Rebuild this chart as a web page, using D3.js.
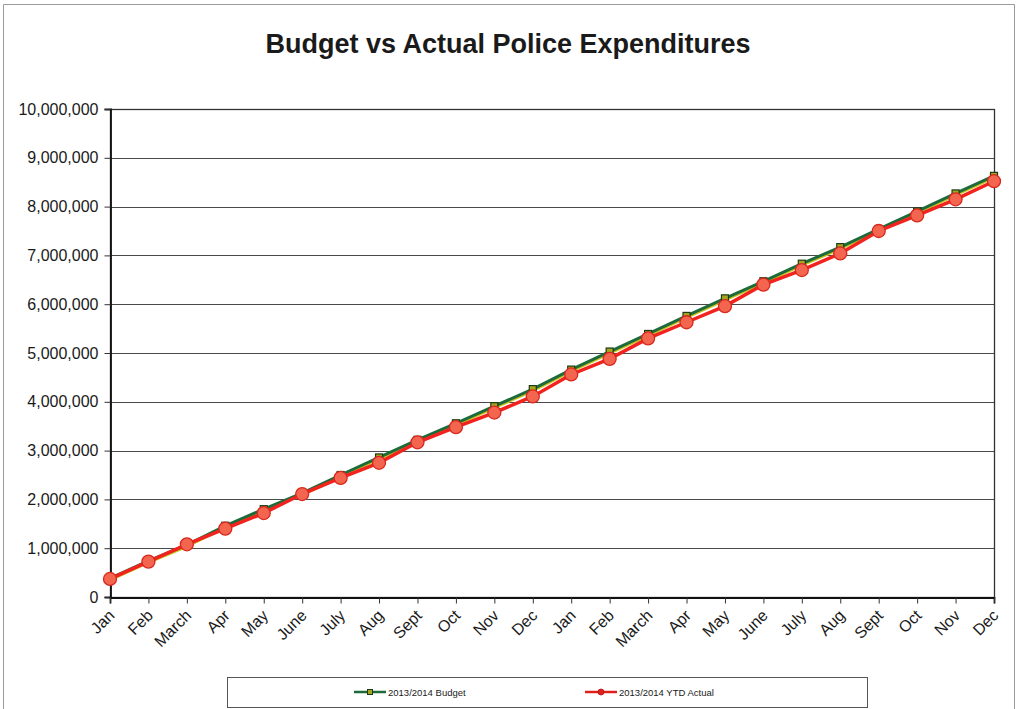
<!DOCTYPE html>
<html>
<head>
<meta charset="utf-8">
<script src="https://cdn.jsdelivr.net/npm/d3@7"></script>
<style>
  html, body { margin: 0; padding: 0; background: #fff; }
  svg { display: block; font-family: "Liberation Sans", Arial, sans-serif; }
</style>
</head>
<body>
<svg id="chart" width="1019" height="709"></svg>
<script>
// Months across two fiscal years (2013 and 2014)
const months = ["Jan","Feb","March","Apr","May","June","July","Aug","Sept","Oct","Nov","Dec",
                "Jan","Feb","March","Apr","May","June","July","Aug","Sept","Oct","Nov","Dec"];

// Cumulative budget, dollars
const budget = [380000, 740000, 1070000, 1460000, 1800000, 2130000, 2500000, 2860000,
                3220000, 3560000, 3910000, 4260000, 4660000, 5030000, 5390000, 5760000,
                6120000, 6470000, 6830000, 7170000, 7540000, 7900000, 8270000, 8630000];

// Year-to-date actual spending, dollars
const actual = [370000, 725000, 1080000, 1400000, 1720000, 2110000, 2440000, 2750000,
                3170000, 3480000, 3780000, 4110000, 4560000, 4880000, 5300000, 5630000,
                5960000, 6400000, 6700000, 7040000, 7500000, 7820000, 8150000, 8520000];

const yTicks = [0,1000000,2000000,3000000,4000000,5000000,6000000,7000000,8000000,9000000,10000000];

const seriesNames = ["2013/2014 Budget", "2013/2014 YTD Actual"];

const svg = d3.select("#chart");
const plot = { left: 110, right: 994, top: 109, bottom: 597 };

// Outer chart frame
svg.append("path")
  .attr("d", `M3.5,709 V4.5 H1014.5 V709`)
  .attr("fill", "none").attr("stroke", "#9a9a9a").attr("stroke-width", 1);

// Title
svg.append("text")
  .attr("x", 508).attr("y", 53)
  .attr("text-anchor", "middle")
  .attr("font-size", 27).attr("font-weight", "bold").attr("fill", "#1a1a1a")
  .text("Budget vs Actual Police Expenditures");

const idx = d3.range(months.length);
const x = d3.scalePoint().domain(idx).range([plot.left, plot.right]);
const y = d3.scaleLinear().domain([0, 10000000]).range([plot.bottom, plot.top]);

// Gridlines
svg.append("g").selectAll("line").data(yTicks.slice(1)).join("line")
  .attr("x1", plot.left).attr("x2", plot.right)
  .attr("y1", d => Math.round(y(d)) + 0.5).attr("y2", d => Math.round(y(d)) + 0.5)
  .attr("stroke", "#4a4a4a").attr("stroke-width", 1.2);

// Plot area border (right and top)
svg.append("rect")
  .attr("x", plot.left + 0.5).attr("y", plot.top + 0.5)
  .attr("width", plot.right - plot.left).attr("height", plot.bottom - plot.top)
  .attr("fill", "none").attr("stroke", "#333").attr("stroke-width", 1.3);

// Y axis
const yAxis = svg.append("g")
  .attr("transform", `translate(${plot.left + 0.5},0)`)
  .call(d3.axisLeft(y).tickValues(yTicks).tickSize(6).tickPadding(6)
        .tickFormat(d3.format(",")));
yAxis.select(".domain").attr("stroke", "#111").attr("stroke-width", 1.8);
yAxis.selectAll(".tick line").attr("stroke", "#333");
yAxis.selectAll("text").attr("font-size", 16).attr("fill", "#1a1a1a")
  .attr("font-family", "Liberation Sans, Arial, sans-serif");

// X axis with labels slanted upward at 45 degrees, ending just below each tick
const xAxis = svg.append("g")
  .attr("transform", `translate(0,${plot.bottom + 0.5})`)
  .call(d3.axisBottom(x).tickSize(6).tickFormat(i => months[i]));
xAxis.select(".domain").attr("stroke", "#111").attr("stroke-width", 1.8);
xAxis.selectAll(".tick line").attr("stroke", "#333");
xAxis.selectAll("text")
  .attr("font-size", 16).attr("fill", "#1a1a1a")
  .attr("font-family", "Liberation Sans, Arial, sans-serif")
  .attr("text-anchor", "end")
  .attr("y", 0).attr("dy", 0)
  .attr("transform", "translate(5,19) rotate(-45)");

const line = d3.line().x((d, i) => x(i)).y(d => y(d));

// Budget series
svg.append("path").datum(budget)
  .attr("d", line).attr("fill", "none")
  .attr("stroke", "#c9c21c").attr("stroke-width", 3)
  .attr("transform", "translate(0,1.5)");
svg.append("path").datum(budget)
  .attr("d", line).attr("fill", "none")
  .attr("stroke", "#1d6b3a").attr("stroke-width", 3);
svg.append("g").selectAll("rect").data(budget).join("rect")
  .attr("x", (d, i) => x(i) - 3.5).attr("y", d => y(d) - 3.5)
  .attr("width", 7).attr("height", 7)
  .attr("fill", "#a9a41e").attr("stroke", "#1c3a16").attr("stroke-width", 1.2);

// Actual series
svg.append("path").datum(actual)
  .attr("d", line).attr("fill", "none")
  .attr("stroke", "#f2231f").attr("stroke-width", 3.5);
svg.append("g").selectAll("circle").data(actual).join("circle")
  .attr("cx", (d, i) => x(i)).attr("cy", d => y(d)).attr("r", 6.5)
  .attr("fill", "#f3654f").attr("stroke", "#d8281e").attr("stroke-width", 1.3);

// Legend
const legend = svg.append("g");
legend.append("rect")
  .attr("x", 227.5).attr("y", 677.5).attr("width", 640).attr("height", 30)
  .attr("fill", "#fff").attr("stroke", "#555").attr("stroke-width", 1);

const legendItems = [
  { name: seriesNames[0], x: 354, color: "#1d6b3a", marker: "square" },
  { name: seriesNames[1], x: 585, color: "#e0201c", marker: "circle" }
];
legendItems.forEach(it => {
  const g = legend.append("g").attr("transform", `translate(${it.x},692)`);
  g.append("line").attr("x1", 0).attr("x2", 32).attr("y1", 0).attr("y2", 0)
    .attr("stroke", it.color).attr("stroke-width", 2.5);
  if (it.marker === "square") {
    g.append("rect").attr("x", 13.5).attr("y", -2.5).attr("width", 5).attr("height", 5)
      .attr("fill", "#a9a41e").attr("stroke", "#1c3a16").attr("stroke-width", 1);
  } else {
    g.append("circle").attr("cx", 16).attr("cy", 0).attr("r", 3)
      .attr("fill", "#e0201c").attr("stroke", "#b01010").attr("stroke-width", 0.8);
  }
  g.append("text").attr("x", 34).attr("y", 3.5)
    .attr("font-size", 9.5).attr("fill", "#1a1a1a").text(it.name);
});
</script>
</body>
</html>
